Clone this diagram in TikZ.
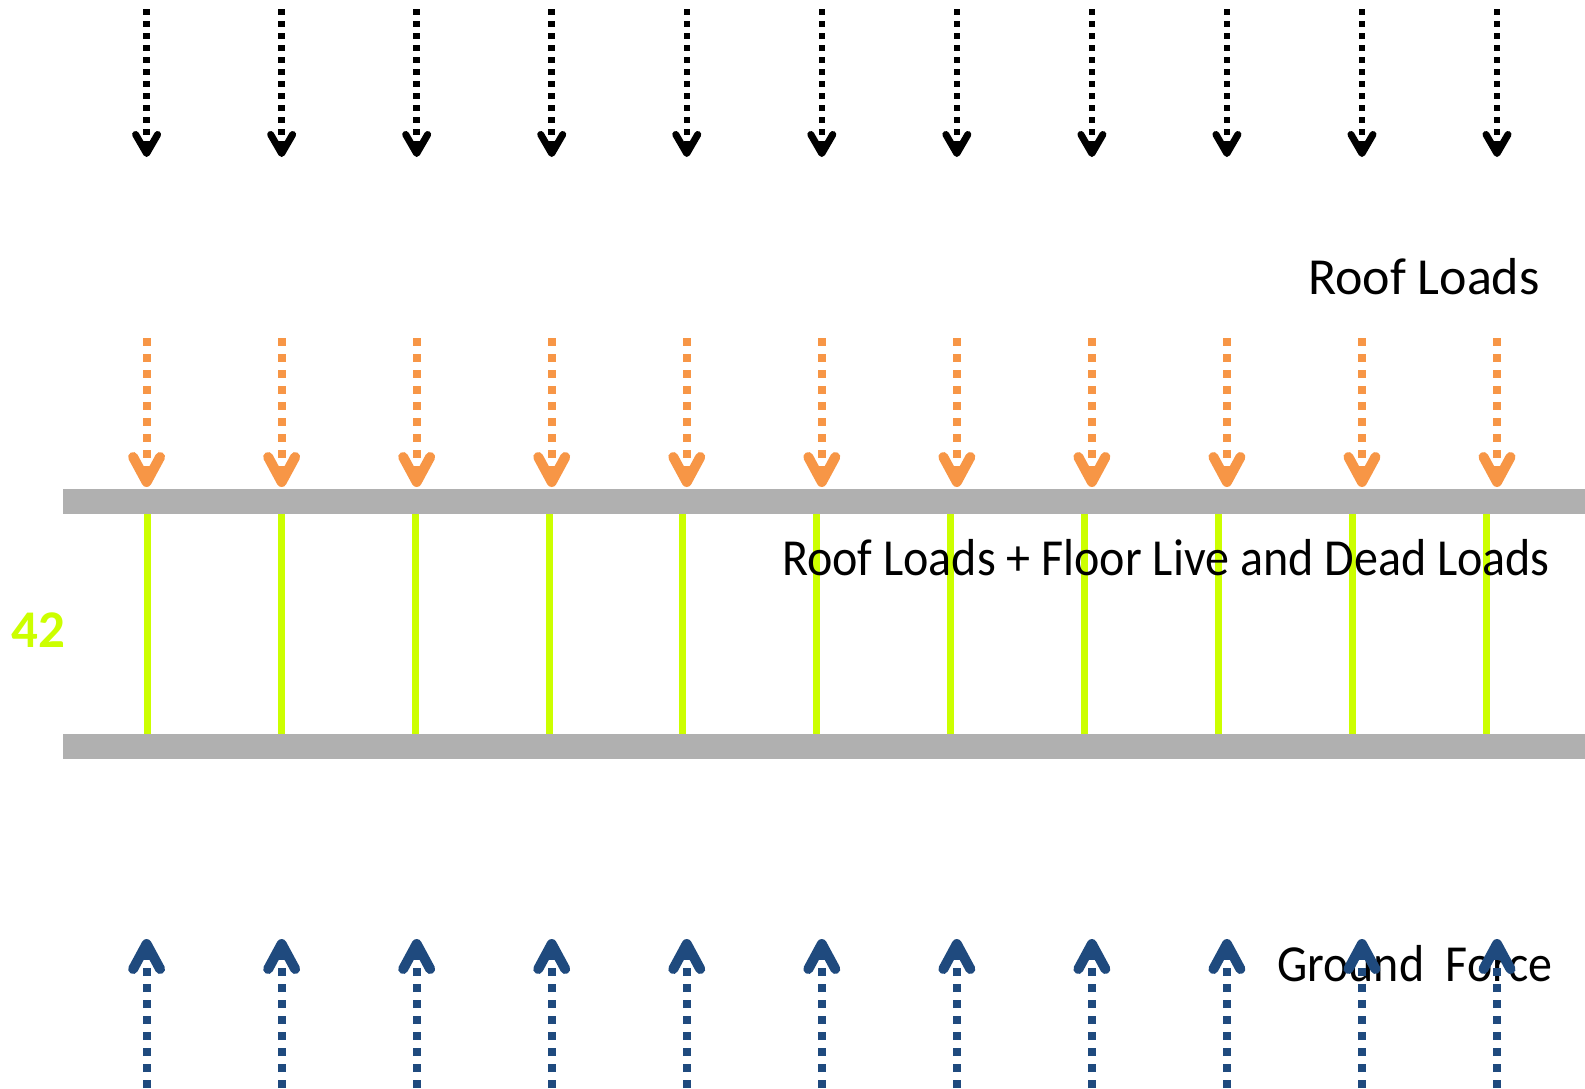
\documentclass[tikz,border=0pt]{standalone}
\usepackage{fontspec}
\setmainfont{Carlito}
\usetikzlibrary{arrows.meta}

\definecolor{roof-orange}{HTML}{F79646}
\definecolor{ground-blue}{HTML}{1F4A7E}
\definecolor{beam-gray}{HTML}{B0B0B0}
\definecolor{column-green}{HTML}{CCFF00}
\tikzstyle{roof-load}=[draw=black, line width=6.5pt, dash pattern=on 6pt off 6pt,
  -{Straight Barb[length=19pt, width=22pt, line width=7pt, round]}]
\tikzstyle{floor-load}=[draw=roof-orange, line width=8pt, dash pattern=on 8pt off 8pt,
  -{Straight Barb[length=25pt, width=27pt, line width=10pt, round]}]
\tikzstyle{ground-force}=[draw=ground-blue, line width=8pt, dash pattern=on 8pt off 8pt,
  -{Straight Barb[length=25pt, width=27pt, line width=10pt, round]}]
\tikzstyle{beam}=[fill=beam-gray]
\tikzstyle{column}=[draw=column-green, line width=7pt]
\tikzstyle{load-label}=[inner sep=0pt, font=\fontsize{52}{60}\selectfont]

\begin{document}
\begin{tikzpicture}[x=1pt, y=-1pt]
      \useasboundingbox (0,0) rectangle (1585,1088);

      % beams
      \fill[beam] (63,489) rectangle (1585,514);
      \fill[beam] (63,734) rectangle (1585,759);

      % columns between the beams
      \foreach \i in {0,...,10} {
        \coordinate (column-top\i) at ({147.6+133.84*\i}, 514);
        \coordinate (column-bottom\i) at ({147.6+133.84*\i}, 734);
        \draw[column] (column-top\i) -- (column-bottom\i);
      }

      \node (storey) at (11, 647) [load-label, anchor=base west, text=column-green,
            font=\fontsize{53}{60}\selectfont\bfseries] {42};
      \node (roof-text) at (1308, 294) [load-label, anchor=base west] {Roof Loads};
      \node (floor-text) at (782, 575) [load-label, anchor=base west]
            {\scalebox{0.924}[1]{Roof Loads + Floor Live and Dead Loads}};
      \node (ground-text) at (1277, 981) [load-label, anchor=base west]
            {\scalebox{0.922}[1]{Ground\ \ Force}};

      % load arrows
      \foreach \i in {0,...,10} {
        \coordinate (roof-start\i) at ({146.6+135.04*\i}, 9);
        \coordinate (roof-end\i) at ({146.6+135.04*\i}, 157);
        \coordinate (floor-start\i) at ({146.6+135.04*\i}, 338);
        \coordinate (floor-end\i) at ({146.6+135.04*\i}, 487);
        \coordinate (ground-start\i) at ({146.6+135.04*\i}, 1088);
        \coordinate (ground-end\i) at ({146.6+135.04*\i}, 939);
        \draw[roof-load] (roof-start\i) -- (roof-end\i);
        \draw[floor-load] (floor-start\i) -- (floor-end\i);
        \draw[ground-force] (ground-start\i) -- (ground-end\i);
      }
\end{tikzpicture}
\end{document}
